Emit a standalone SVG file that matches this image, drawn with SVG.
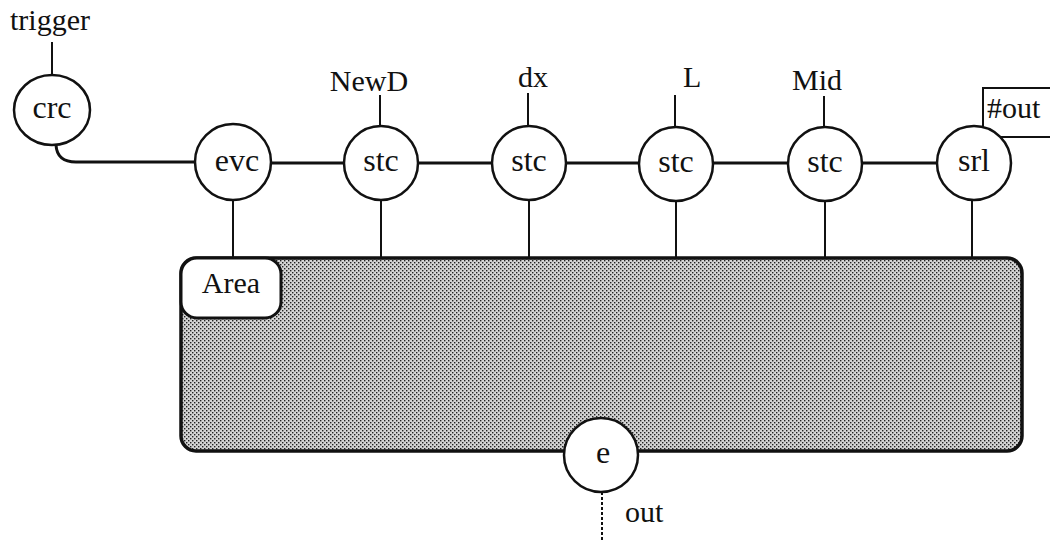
<svg xmlns="http://www.w3.org/2000/svg" width="1050" height="541" viewBox="0 0 1050 541">
<style>
text{font-family:"Liberation Serif","Times New Roman",serif;font-size:30px;fill:#111}
.node{fill:#fff;stroke:#111;stroke-width:2.5}
.n{font-size:32px}
.c{text-anchor:middle}
.thick{stroke:#111;stroke-width:3;fill:none}
.thin{stroke:#111;stroke-width:2;fill:none}
</style>
<defs>
<pattern id="dith" width="4" height="4" patternUnits="userSpaceOnUse">
<rect width="4" height="4" fill="#d4d4d4"/>
<rect x="0" y="0" width="1.4" height="1.4" fill="#222"/>
<rect x="2" y="2" width="1.4" height="1.4" fill="#222"/>
</pattern>
</defs>
<g id="area">
<rect x="181" y="258" width="841" height="193" rx="15" fill="url(#dith)" stroke="#111" stroke-width="3.5"/>
<rect x="181" y="258" width="100" height="60" rx="16" fill="#fff" stroke="#111" stroke-width="3"/>
<text x="231" y="293" class="c">Area</text>
</g>
<g id="connectors">
<path class="thick" d="M56 145 Q57 162 76 162 L195 162"/>
<line class="thick" x1="271" y1="163" x2="344" y2="163"/>
<line class="thick" x1="418" y1="163" x2="492" y2="163"/>
<line class="thick" x1="566" y1="163" x2="639" y2="163"/>
<line class="thick" x1="713" y1="163" x2="788" y2="163"/>
<line class="thick" x1="862" y1="163" x2="937" y2="163"/>
<line class="thin" x1="52" y1="42" x2="52" y2="76"/>
<line class="thin" x1="380" y1="95" x2="380" y2="126"/>
<line class="thin" x1="528" y1="93" x2="528" y2="126"/>
<line class="thin" x1="675" y1="95" x2="675" y2="127"/>
<line class="thin" x1="824" y1="96" x2="824" y2="126"/>
<line class="thin" x1="233" y1="200" x2="233" y2="258"/>
<line class="thin" x1="381" y1="200" x2="381" y2="258"/>
<line class="thin" x1="529" y1="200" x2="529" y2="258"/>
<line class="thin" x1="676" y1="200" x2="676" y2="258"/>
<line class="thin" x1="825" y1="200" x2="825" y2="258"/>
<line class="thin" x1="972" y1="200" x2="972" y2="258"/>
<line class="thin" x1="602" y1="492" x2="602" y2="541" stroke-dasharray="3 2"/>
<path class="thin" d="M983 127 L983 88 L1050 88 M1000 137 L1050 137"/>
</g>
<g id="labels">
<text x="10" y="30">trigger</text>
<text x="369" y="91" class="c">NewD</text>
<text x="533" y="87" class="c">dx</text>
<text x="683" y="87">L</text>
<text x="817" y="90" class="c">Mid</text>
<text x="987" y="118">#out</text>
<text x="625" y="522">out</text>
</g>
<g id="crc"><ellipse class="node" cx="52" cy="110" rx="38" ry="35" stroke-width="3"/><text x="52" y="118" class="c n">crc</text></g>
<g id="evc"><circle class="node" cx="233" cy="162" r="38"/><text x="237" y="171" class="c n">evc</text></g>
<g id="stc1"><circle class="node" cx="381" cy="163" r="37"/><text x="381" y="171" class="c n">stc</text></g>
<g id="stc2"><circle class="node" cx="529" cy="163" r="37"/><text x="529" y="171" class="c n">stc</text></g>
<g id="stc3"><circle class="node" cx="676" cy="164" r="37"/><text x="676" y="172" class="c n">stc</text></g>
<g id="stc4"><circle class="node" cx="825" cy="164" r="37"/><text x="825" y="172" class="c n">stc</text></g>
<g id="srl"><circle class="node" cx="974" cy="163" r="37"/><text x="974" y="171" class="c n">srl</text></g>
<g id="e"><circle class="node" cx="601" cy="455" r="37"/><text x="603" y="463" class="c n">e</text></g>
</svg>
